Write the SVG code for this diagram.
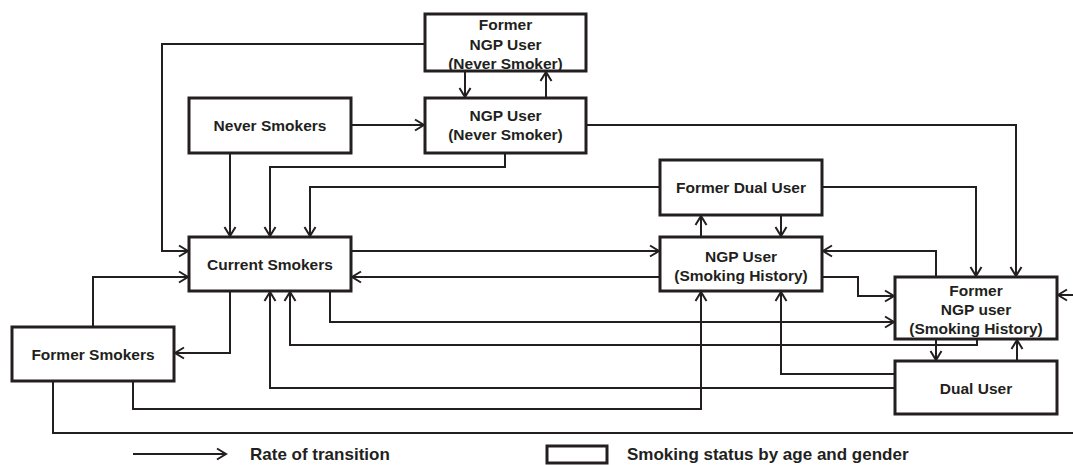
<svg xmlns="http://www.w3.org/2000/svg" width="1073" height="465" viewBox="0 0 1073 465">
<style>
.box{fill:#fff;stroke:#231f20;stroke-width:3}
.t{font-family:"Liberation Sans",Arial,sans-serif;font-weight:bold;font-size:15.5px;fill:#231f20;text-anchor:middle}
.lg{font-family:"Liberation Sans",Arial,sans-serif;font-weight:bold;font-size:17px;fill:#231f20}
.c{fill:none;stroke:#231f20;stroke-width:2;marker-end:url(#ah)}
.p{fill:none;stroke:#231f20;stroke-width:2}
</style>
<defs>
<marker id="ah" markerUnits="userSpaceOnUse" markerWidth="16" markerHeight="16" viewBox="-12 -8 16 16" refX="0" refY="0" orient="auto" overflow="visible">
<path d="M-9,-5.5 L0,0 L-9,5.5" fill="none" stroke="#231f20" stroke-width="2"/>
</marker>
</defs>
<rect width="1073" height="465" fill="#fff"/>
<g id="connectors">
<path class="c" d="M425,44 H162 V251 H188"/>
<path class="c" d="M465,71 V97"/>
<path class="c" d="M546,98 V72"/>
<path class="c" d="M351,125 H424"/>
<path class="c" d="M586,125 H1016 V276"/>
<path class="c" d="M230,153 V236"/>
<path class="c" d="M505,153 V167 H270 V236"/>
<path class="c" d="M660,187 H310 V236"/>
<path class="c" d="M822,187 H976 V276"/>
<path class="c" d="M701,237 V216"/>
<path class="c" d="M781,215 V236"/>
<path class="c" d="M351,251 H659"/>
<path class="c" d="M660,277 H352"/>
<path class="c" d="M93,327 V277 H188"/>
<path class="c" d="M230,291 V353 H175"/>
<path class="c" d="M330,291 V322 H894"/>
<path class="c" d="M977,339 V345 H290 V292"/>
<path class="c" d="M895,388 H270 V292"/>
<path class="c" d="M133,381 V409 H701 V292"/>
<path class="c" d="M53,381 V433 H1076 V295 H1058"/>
<path class="c" d="M936,277 V251 H823"/>
<path class="c" d="M822,277 H858 V296 H894"/>
<path class="c" d="M895,374 H781 V292"/>
<path class="c" d="M936,339 V360"/>
<path class="c" d="M1017,361 V340"/>
</g>
<g id="n-former-ngp-never">
<rect class="box" x="425" y="14" width="161" height="57"/>
<text class="t" x="505.5" y="30">Former</text>
<text class="t" x="505.5" y="50">NGP User</text>
<text class="t" x="505.5" y="69">(Never Smoker)</text>
</g>
<g id="n-ngp-never">
<rect class="box" x="425" y="98" width="161" height="55"/>
<text class="t" x="505.5" y="121">NGP User</text>
<text class="t" x="505.5" y="140">(Never Smoker)</text>
</g>
<g id="n-never-smokers">
<rect class="box" x="189" y="98" width="162" height="55"/>
<text class="t" x="270" y="131">Never Smokers</text>
</g>
<g id="n-current-smokers">
<rect class="box" x="189" y="237" width="162" height="54"/>
<text class="t" x="270" y="270">Current Smokers</text>
</g>
<g id="n-former-smokers">
<rect class="box" x="12" y="327" width="162" height="54"/>
<text class="t" x="93" y="360">Former Smokers</text>
</g>
<g id="n-former-dual">
<rect class="box" x="660" y="160" width="162" height="55"/>
<text class="t" x="741" y="193">Former Dual User</text>
</g>
<g id="n-ngp-sh">
<rect class="box" x="660" y="237" width="162" height="54"/>
<text class="t" x="741" y="262">NGP User</text>
<text class="t" x="741" y="281">(Smoking History)</text>
</g>
<g id="n-former-ngp-sh">
<rect class="box" x="895" y="277" width="162" height="62"/>
<text class="t" x="976" y="296">Former</text>
<text class="t" x="976" y="315">NGP user</text>
<text class="t" x="976" y="334">(Smoking History)</text>
</g>
<g id="n-dual">
<rect class="box" x="895" y="361" width="162" height="53"/>
<text class="t" x="976" y="394">Dual User</text>
</g>
<g id="legend">
<path class="c" d="M133,454 H226"/>
<text class="lg" x="250" y="460">Rate of transition</text>
<rect class="box" x="547" y="446" width="60" height="17"/>
<text class="lg" x="627" y="460">Smoking status by age and gender</text>
</g>
</svg>
